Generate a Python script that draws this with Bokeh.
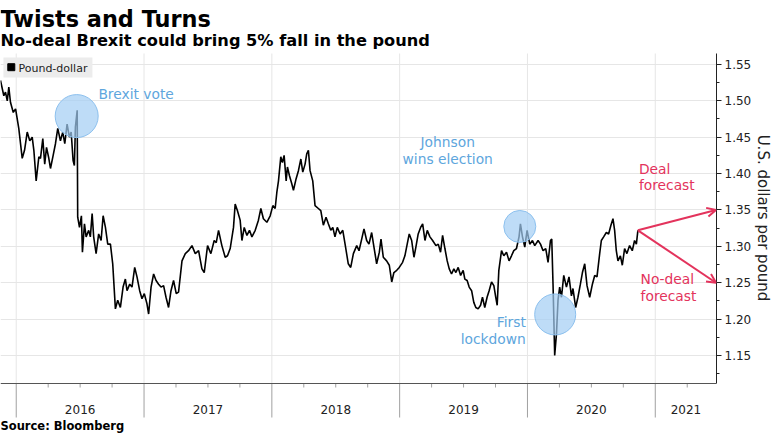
from bokeh.plotting import figure
from bokeh.models import (Range1d, FixedTicker, NumeralTickFormatter, Arrow,
                          OpenHead, ColumnDataSource)
from bokeh.core.properties import value
from bokeh.embed import file_html
from bokeh.resources import INLINE

FONT = "DejaVu Sans"

# ---------------- data ----------------
# dates as decimal years
dates = [
    2015.877, 2015.903, 2015.916, 2015.930, 2015.942, 2015.955, 2015.977, 2015.995,
    2016.020, 2016.047, 2016.065, 2016.086, 2016.106, 2016.125, 2016.138, 2016.156,
    2016.177, 2016.190, 2016.208, 2016.223, 2016.237, 2016.255, 2016.268, 2016.289,
    2016.307, 2016.325, 2016.346, 2016.364, 2016.380, 2016.398, 2016.416, 2016.430,
    2016.445, 2016.455, 2016.463, 2016.477, 2016.481, 2016.495, 2016.510, 2016.518,
    2016.534, 2016.547, 2016.567, 2016.580, 2016.594, 2016.606, 2016.625, 2016.645,
    2016.664, 2016.680, 2016.698, 2016.716, 2016.737, 2016.755, 2016.776, 2016.794,
    2016.815, 2016.836, 2016.854, 2016.867, 2016.888, 2016.906, 2016.927, 2016.945,
    2016.966, 2016.984, 2017.002, 2017.023, 2017.036, 2017.055, 2017.075, 2017.094,
    2017.114, 2017.133, 2017.153, 2017.172, 2017.192, 2017.211, 2017.231, 2017.252,
    2017.270, 2017.297, 2017.323, 2017.348, 2017.375, 2017.401, 2017.427, 2017.453,
    2017.471, 2017.497, 2017.523, 2017.549, 2017.565, 2017.583, 2017.609, 2017.635,
    2017.653, 2017.674, 2017.700, 2017.713, 2017.731, 2017.752, 2017.766, 2017.784,
    2017.805, 2017.825, 2017.844, 2017.870, 2017.895, 2017.914, 2017.934, 2017.961,
    2017.987, 2018.008, 2018.026, 2018.039, 2018.052, 2018.070, 2018.083, 2018.096,
    2018.112, 2018.122, 2018.138, 2018.156, 2018.169, 2018.190, 2018.208, 2018.227,
    2018.242, 2018.260, 2018.273, 2018.286, 2018.299, 2018.320, 2018.338, 2018.364,
    2018.383, 2018.403, 2018.424, 2018.442, 2018.461, 2018.477, 2018.494, 2018.512,
    2018.534, 2018.555, 2018.573, 2018.598, 2018.617, 2018.638, 2018.664, 2018.682,
    2018.703, 2018.721, 2018.742, 2018.760, 2018.781, 2018.799, 2018.820, 2018.841,
    2018.854, 2018.872, 2018.898, 2018.919, 2018.938, 2018.955, 2018.977, 2018.997,
    2019.023, 2019.041, 2019.059, 2019.075, 2019.094, 2019.112, 2019.127, 2019.145,
    2019.164, 2019.180, 2019.198, 2019.216, 2019.237, 2019.258, 2019.284, 2019.302,
    2019.320, 2019.336, 2019.354, 2019.372, 2019.388, 2019.406, 2019.424, 2019.440,
    2019.458, 2019.477, 2019.497, 2019.510, 2019.528, 2019.544, 2019.563, 2019.580,
    2019.596, 2019.614, 2019.633, 2019.648, 2019.666, 2019.684, 2019.700, 2019.719,
    2019.737, 2019.752, 2019.763, 2019.776, 2019.797, 2019.815, 2019.836, 2019.856,
    2019.875, 2019.893, 2019.914, 2019.934, 2019.945, 2019.961, 2019.979, 2019.997,
    2020.018, 2020.039, 2020.057, 2020.083, 2020.102, 2020.122, 2020.143, 2020.161,
    2020.180, 2020.190, 2020.200, 2020.213, 2020.227, 2020.239, 2020.252, 2020.266,
    2020.284, 2020.305, 2020.325, 2020.344, 2020.356, 2020.377, 2020.395, 2020.414,
    2020.430, 2020.448, 2020.466, 2020.487, 2020.508, 2020.526, 2020.544, 2020.565,
    2020.578, 2020.596, 2020.617, 2020.635, 2020.653, 2020.669, 2020.682, 2020.695,
    2020.708, 2020.727, 2020.742, 2020.760, 2020.778, 2020.799, 2020.820, 2020.838,
    2020.852, 2020.864,
]

pound_dollar = [
    1.528, 1.507, 1.512, 1.500, 1.519, 1.498, 1.484, 1.489,
    1.462, 1.421, 1.432, 1.457, 1.445, 1.450, 1.432, 1.390,
    1.423, 1.421, 1.448, 1.413, 1.436, 1.421, 1.407, 1.425,
    1.441, 1.462, 1.445, 1.457, 1.441, 1.468, 1.450, 1.457,
    1.418, 1.411, 1.464, 1.487, 1.340, 1.326, 1.342, 1.292,
    1.331, 1.313, 1.322, 1.313, 1.345, 1.313, 1.290, 1.317,
    1.308, 1.342, 1.326, 1.303, 1.303, 1.276, 1.214, 1.226,
    1.216, 1.244, 1.255, 1.239, 1.248, 1.244, 1.271, 1.258,
    1.239, 1.228, 1.235, 1.221, 1.207, 1.244, 1.262, 1.253,
    1.248, 1.244, 1.246, 1.230, 1.216, 1.239, 1.253, 1.235,
    1.237, 1.280, 1.290, 1.294, 1.301, 1.290, 1.294, 1.269,
    1.264, 1.301, 1.290, 1.308, 1.305, 1.322, 1.301, 1.285,
    1.287, 1.297, 1.326, 1.358, 1.349, 1.336, 1.308, 1.326,
    1.315, 1.322, 1.313, 1.322, 1.336, 1.352, 1.338, 1.333,
    1.342, 1.356, 1.352, 1.374, 1.390, 1.423, 1.415, 1.425,
    1.390, 1.409, 1.397, 1.386, 1.377, 1.393, 1.404, 1.420,
    1.402, 1.413, 1.427, 1.432, 1.404, 1.390, 1.356, 1.352,
    1.349, 1.329, 1.340, 1.331, 1.322, 1.326, 1.313, 1.326,
    1.317, 1.322, 1.303, 1.276, 1.271, 1.290, 1.301, 1.294,
    1.310, 1.324, 1.308, 1.303, 1.319, 1.299, 1.276, 1.292,
    1.310, 1.285, 1.280, 1.274, 1.251, 1.264, 1.267, 1.271,
    1.278, 1.287, 1.303, 1.317, 1.308, 1.285, 1.299, 1.317,
    1.326, 1.331, 1.308, 1.322, 1.313, 1.308, 1.301, 1.303,
    1.292, 1.315, 1.297, 1.280, 1.269, 1.262, 1.269, 1.264,
    1.271, 1.260, 1.267, 1.255, 1.253, 1.244, 1.239, 1.223,
    1.216, 1.214, 1.219, 1.230, 1.216, 1.230, 1.239, 1.251,
    1.246, 1.230, 1.219, 1.267, 1.294, 1.287, 1.292, 1.280,
    1.287, 1.294, 1.297, 1.313, 1.331, 1.313, 1.299, 1.322,
    1.303, 1.308, 1.301, 1.308, 1.303, 1.294, 1.297, 1.278,
    1.308, 1.310, 1.248, 1.150, 1.180, 1.226, 1.244, 1.230,
    1.260, 1.244, 1.258, 1.232, 1.242, 1.216, 1.230, 1.248,
    1.264, 1.276, 1.246, 1.230, 1.248, 1.260, 1.258, 1.290,
    1.308, 1.313, 1.319, 1.317, 1.329, 1.338, 1.322, 1.294,
    1.280, 1.287, 1.274, 1.297, 1.290, 1.301, 1.294, 1.308,
    1.303, 1.322,
]
series_name = "Pound-dollar"

# forecasts
forecast_date = 2021.475
deal_forecast = 1.35
nodeal_forecast = 1.25

# highlighted events
event_dates = [2016.473, 2019.940, 2020.217]
event_values = [1.479, 1.3273, 1.2064]
event_sizes = [43, 32, 41]

# axis ticks
year_ticks = [2016, 2017, 2018, 2019, 2020, 2021]
quarter_ticks = [2016.25, 2016.5, 2016.75, 2017.25, 2017.5, 2017.75,
                 2018.25, 2018.5, 2018.75, 2019.25, 2019.5, 2019.75,
                 2020.25, 2020.5, 2020.75, 2021.25]
year_labels = ["2016", "2017", "2018", "2019", "2020", "2021"]
year_label_pos = [2016.5, 2017.5, 2018.5, 2019.5, 2020.5, 2021.24]
price_ticks = [1.15, 1.20, 1.25, 1.30, 1.35, 1.40, 1.45, 1.50, 1.55]
price_minor = [1.125, 1.175, 1.225, 1.275, 1.325, 1.375, 1.425, 1.475, 1.525]

# ---------------- layout ----------------
X0, X1 = 2015.877, 2021.479          # visible date span of the chart area
Y0, Y1 = 1.1115, 1.565               # visible value span of the chart area
W, H = 775, 435
FRAME_TOP = 53                        # canvas row of the top of the chart area
FRAME_BOTTOM = 383                    # canvas row of the x axis line
FRAME_RIGHT = 717                     # canvas column of the value axis
PX = (FRAME_BOTTOM - FRAME_TOP) / (Y1 - Y0)   # pixels per unit of value
PXX = FRAME_RIGHT / (X1 - X0)                  # pixels per year
YLO = Y0 - (H - FRAME_BOTTOM) / PX
YHI = Y1 + FRAME_TOP / PX


def yc(canvas_y):
    """data y for a canvas pixel row"""
    return Y1 - (canvas_y - FRAME_TOP) / PX


def xc(canvas_x):
    """data x for a canvas pixel column"""
    return X0 + canvas_x / PXX


BLUE_TXT = "#5ea6dd"
RED = "#e3335c"
GRID = "#e6e6e6"

p = figure(width=W, height=H, x_range=Range1d(X0, X1), y_range=Range1d(YLO, YHI),
           y_axis_location="right", output_backend="svg", toolbar_location=None,
           min_border_left=0, min_border_top=0, min_border_bottom=0, min_border_right=0)
p.outline_line_color = None
p.background_fill_color = "white"
p.border_fill_color = "white"
p.xaxis.visible = False
p.xgrid.visible = False

# y axis on the right, limited to the chart area
yt = FixedTicker(ticks=price_ticks, minor_ticks=price_minor)
ya = p.yaxis[0]
ya.ticker = yt
ya.bounds = (Y0, Y1)
ya.formatter = NumeralTickFormatter(format="0.00")
ya.axis_line_color = "#222222"
ya.major_tick_out = 5
ya.major_tick_in = 0
ya.minor_tick_out = 3
ya.minor_tick_in = 0
ya.major_tick_line_color = "#222222"
ya.minor_tick_line_color = "#222222"
ya.major_label_standoff = 3
ya.major_label_text_font = FONT
ya.major_label_text_font_size = "12px"
ya.major_label_text_color = "#222222"
ya.axis_label = "U.S. dollars per pound"
ya.axis_label_text_font = FONT
ya.axis_label_text_font_size = "15px"
ya.axis_label_text_font_style = "normal"
ya.axis_label_text_color = "#222222"
ya.axis_label_standoff = 0
p.ygrid.ticker = yt
p.ygrid.grid_line_color = GRID

# vertical year grid lines
n = len(year_ticks)
p.segment(x0=year_ticks, y0=[Y0] * n, x1=year_ticks, y1=[Y1] * n,
          line_color=GRID, line_width=1)

# x axis drawn by hand: line, year separators, quarter ticks
p.segment(x0=year_ticks, y0=[Y0] * n, x1=year_ticks, y1=[yc(FRAME_BOTTOM + 34)] * n,
          line_color="#a0a0a0", line_width=1)
m = len(quarter_ticks)
p.segment(x0=quarter_ticks, y0=[Y0] * m, x1=quarter_ticks, y1=[yc(FRAME_BOTTOM + 4)] * m,
          line_color="#a0a0a0", line_width=1)
p.segment(x0=[X0], y0=[Y0], x1=[X1], y1=[Y0], line_color="#555555", line_width=1)

# price line
src = ColumnDataSource(dict(x=dates, y=pound_dollar))
p.line("x", "y", source=src, line_color="black", line_width=1.6)

# event circles
p.scatter(event_dates, event_values, size=event_sizes, marker="circle",
          fill_color="#a3cdf4", fill_alpha=0.7, line_color="#8cc0ee", line_width=1)

# forecast arrows
for target in (deal_forecast, nodeal_forecast):
    p.add_layout(Arrow(end=OpenHead(size=9, line_color=RED, line_width=2),
                       x_start=dates[-1], y_start=pound_dollar[-1],
                       x_end=forecast_date, y_end=target,
                       line_color=RED, line_width=2))


def add_text(xs, ys, texts, color, size=13.8, align="left", style="normal"):
    """ys are the wanted baselines (data units); the text box is anchored
    at its middle, so shift it up by ~0.31 em."""
    shift = 0.31 * size / PX
    p.text(x=xs, y=[y + shift for y in ys], text=texts, text_font=value(FONT),
           text_font_size=value(f"{size}px"), text_color=value(color),
           text_align=value(align), text_baseline=value("alphabetic"),
           text_font_style=value(style))


# annotations
add_text([2016.643], [1.5033], ["Brexit vote"], BLUE_TXT)
add_text([2019.376, 2019.376], [1.4377, 1.4143], ["Johnson", "wins election"], BLUE_TXT,
         align="center")
add_text([2019.987, 2019.987], [1.1899, 1.1669], ["First", "lockdown"], BLUE_TXT,
         align="right")
add_text([2020.872, 2020.872], [1.4006, 1.3778], ["Deal", "forecast"], RED)
add_text([2020.885, 2020.885], [1.2486, 1.2256], ["No-deal", "forecast"], RED)

# titles, year labels, source
add_text([X0], [yc(25.5)], ["Twists and Turns"], "#000000", size=22.4, style="bold")
add_text([X0], [yc(45)], ["No-deal Brexit could bring 5% fall in the pound"], "#000000",
         size=16.2, style="bold")
add_text(year_label_pos, [yc(413)] * len(year_labels), year_labels,
         "#222222", size=12, align="center")
add_text([X0], [yc(429)], ["Source: Bloomberg"], "#000000", size=11.5, style="bold")

# legend box (top left of the chart area)
p.rect(x=[xc(47.5)], y=[yc(67)], width=89, height=20, width_units="screen",
       height_units="screen", fill_color="#ececec", line_color=None)
p.scatter(x=[xc(10.8)], y=[yc(66.7)], marker="square", size=7, fill_color="black",
          line_color="black")
add_text([xc(18)], [yc(71)], [series_name], "#222222", size=11)

open("out.html", "w").write(file_html(p, INLINE))
